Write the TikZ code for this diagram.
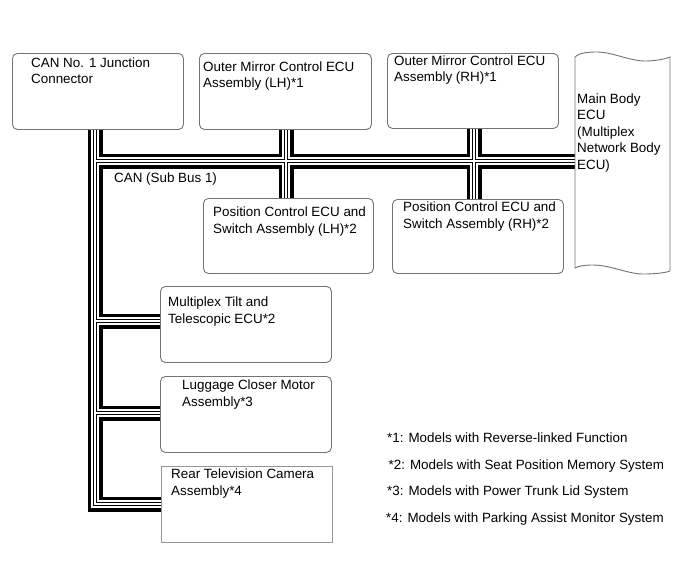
\documentclass[tikz,border=0pt]{standalone}
\usepackage{fontspec}
\setmainfont{Liberation Sans}
\usetikzlibrary{positioning}
\definecolor{boxline}{RGB}{115,115,115}
\definecolor{tvline}{RGB}{150,150,150}
\pgfdeclarelayer{bus}
\pgfsetlayers{bus,main}

\begin{document}
\begin{tikzpicture}[x=1pt, y=-1pt,
  box/.style={draw=boxline, line width=0.9, rounded corners=5pt, anchor=north west, inner sep=0pt},
  txt/.style={anchor=base west, align=left, inner sep=0pt, font=\fontsize{13.4}{16.5}\selectfont}]
  \useasboundingbox (0,0) rectangle (690,562);

  % ECU boxes
  \node[box, minimum width=171, minimum height=76] (can) at (12,53) {};
  \node[box, minimum width=172, minimum height=76] (mirL) at (199,53) {};
  \node[box, minimum width=171, minimum height=75] (mirR) at (387,53) {};
  \node[box, minimum width=170, minimum height=75] (posL) at (203,198) {};
  \node[box, minimum width=171, minimum height=74] (posR) at (392,199) {};
  \node[box, minimum width=171, minimum height=76] (tilt) at (160,286) {};
  \node[box, minimum width=171, minimum height=76] (lug) at (160,376) {};
  \node[box, draw=tvline, sharp corners, minimum width=171, minimum height=76] (tv) at (161,466) {};

  % main body ECU, cut off on both wavy edges
  \node[anchor=north west, inner sep=0pt, minimum width=95, minimum height=214] (ecu) at (575,57) {};
  \draw[boxline, line width=0.9] (575,57) .. controls (578,53) and (588,52) .. (597,52)
    .. controls (612,52) and (630,61) .. (645,61) .. controls (656,61) and (665,59) .. (670,57)
    -- (670,271) .. controls (665,273) and (654,274) .. (643,274)
    .. controls (628,274) and (610,265) .. (593,265) .. controls (585,265) and (578,266) .. (575,268) -- cycle;

  % sub bus wiring
  \coordinate (jcan) at (95,161);
  \coordinate (jL) at (286,161);
  \coordinate (jR) at (474,161);
  \coordinate (jT) at (95,321);
  \coordinate (jG) at (95,413);
  \coordinate (jC) at (95,504);
  \begin{pgfonlayer}{bus}
    \foreach \w/\c in {15/black, 8/white, 4.4/black, 2.2/white} {
      \draw[line width=\w, \c] (can.south -| jcan) -- (jC) -- (tv.west |- jC);
      \draw[line width=\w, \c] (jcan) -- (ecu.west |- jcan);
      \draw[line width=\w, \c] (mirL.south -| jL) -- (posL.north -| jL);
      \draw[line width=\w, \c] (mirR.south -| jR) -- (posR.north -| jR);
      \draw[line width=\w, \c] (jT) -- (tilt.west |- jT);
      \draw[line width=\w, \c] (jG) -- (lug.west |- jG);
    }
  \end{pgfonlayer}

  % labels (base = last line)
  \node[txt] (canTxt) at (31,83.5) {CAN No. 1 Junction\\Connector};
  \node[txt] (mirLTxt) at (203,87.5) {Outer Mirror Control ECU\\Assembly (LH)*1};
  \node[txt] (mirRTxt) at (394,81.5) {Outer Mirror Control ECU\\Assembly (RH)*1};
  \node[txt] (ecuTxt) at (577,169) {Main Body\\ECU\\(Multiplex\\Network Body\\ECU)};
  \node[txt] (busTxt) at (114,182) {CAN (Sub Bus 1)};
  \node[txt] (posLTxt) at (213,233) {Position Control ECU and\\Switch Assembly (LH)*2};
  \node[txt] (posRTxt) at (403,228) {Position Control ECU and\\Switch Assembly (RH)*2};
  \node[txt] (tiltTxt) at (168,323) {Multiplex Tilt and\\Telescopic ECU*2};
  \node[txt] (lugTxt) at (182,406) {Luggage Closer Motor\\Assembly*3};
  \node[txt] (tvTxt) at (171,495) {Rear Television Camera\\Assembly*4};

  % notes
  \foreach \i/\x/\y/\t in {1/387/442/Models with Reverse-linked Function,
      2/388.5/469/Models with Seat Position Memory System,
      3/387/495.5/Models with Power Trunk Lid System,
      4/386/522/Models with Parking Assist Monitor System}
    \node[txt] (note\i) at (\x,\y) {*\i: \t};
\end{tikzpicture}
\end{document}
